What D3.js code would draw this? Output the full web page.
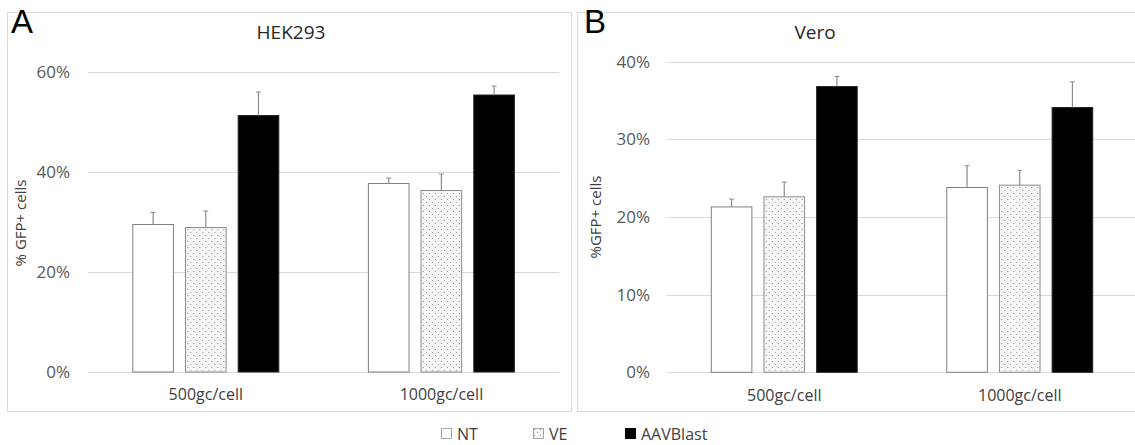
<!DOCTYPE html>
<html>
<head>
<meta charset="utf-8">
<script src="https://cdn.jsdelivr.net/npm/d3@7"></script>
<style>
  body { margin: 0; background: #fff; }
  text { font-family: "Open Sans", sans-serif; }
</style>
</head>
<body>
<div id="chart"></div>
<script>
// data (% GFP+ cells, mean and upper error)
const categories = ['500gc/cell', '1000gc/cell'];
const seriesNames = ['NT', 'VE', 'AAVBlast'];

const hekNT = [29.5, 37.7];
const hekVE = [28.9, 36.3];
const hekAAV = [51.3, 55.4];
const hekNTErr = [2.4, 1.1];
const hekVEErr = [3.3, 3.3];
const hekAAVErr = [4.7, 1.8];
const hekTicks = [0, 20, 40, 60];

const veroNT = [21.3, 23.8];
const veroVE = [22.6, 24.1];
const veroAAV = [36.8, 34.1];
const veroNTErr = [1.0, 2.8];
const veroVEErr = [1.9, 1.9];
const veroAAVErr = [1.3, 3.3];
const veroTicks = [0, 10, 20, 30, 40];

const W = 1135, H = 445;
const svg = d3.select('#chart').append('svg').attr('width', W).attr('height', H);

// dotted fill for VE
const defs = svg.append('defs');
const pat = defs.append('pattern').attr('id', 'dots')
  .attr('patternUnits', 'userSpaceOnUse').attr('width', 6).attr('height', 6);
pat.append('rect').attr('width', 6).attr('height', 6).attr('fill', '#f5f5f5');
pat.append('rect').attr('x', 1).attr('y', 1).attr('width', 1).attr('height', 1).attr('fill', '#8a8a8a');
pat.append('rect').attr('x', 4).attr('y', 4).attr('width', 1).attr('height', 1).attr('fill', '#9a9a9a');

const fills = { NT: '#ffffff', VE: 'url(#dots)', AAVBlast: '#000000' };
const strokes = { NT: '#7f7f7f', VE: '#8c8c8c', AAVBlast: '#262626' };

function panel(opt) {
  const g = svg.append('g');
  // frame
  g.append('rect').attr('x', opt.frame[0]).attr('y', opt.frame[1])
    .attr('width', opt.frame[2]).attr('height', opt.frame[3])
    .attr('fill', 'none').attr('stroke', '#d9d9d9');

  const y = d3.scaleLinear().domain([0, opt.ticks[opt.ticks.length - 1]]).range(opt.yRange);
  const x0 = d3.scaleBand().domain(categories).range(opt.xRange)
    .paddingInner(0.376).paddingOuter(0.188);
  const x1 = d3.scaleBand().domain(seriesNames).range([0, x0.bandwidth()])
    .paddingInner(0.21).paddingOuter(0);

  // gridlines
  g.selectAll('.grid').data(opt.ticks).join('line')
    .attr('x1', opt.xRange[0]).attr('x2', opt.xRange[1])
    .attr('y1', d => Math.round(y(d)) + 0.5).attr('y2', d => Math.round(y(d)) + 0.5)
    .attr('stroke', '#d9d9d9');

  // y axis labels
  const yAxis = d3.axisLeft(y).tickValues(opt.ticks).tickSize(0).tickPadding(0)
    .tickFormat(d => d + '%');
  const ya = g.append('g').attr('transform', `translate(${opt.labelX},0)`).call(yAxis);
  ya.select('.domain').remove();
  ya.selectAll('text').attr('font-size', 17).attr('fill', '#595959')
    .style('font-family', '"Open Sans", sans-serif');

  // category labels
  const xAxis = d3.axisBottom(x0).tickSize(0).tickPadding(0);
  const xa = g.append('g').attr('transform', `translate(0,${opt.yRange[0] + 17})`).call(xAxis);
  xa.select('.domain').remove();
  xa.selectAll('text').attr('font-size', 16).attr('fill', '#404040')
    .style('font-family', '"Open Sans", sans-serif');

  // bars
  const rows = [];
  categories.forEach((c, i) => {
    seriesNames.forEach((s, j) => {
      rows.push({ c, s, v: opt.values[j][i], e: opt.errors[j][i] });
    });
  });
  const groups = g.selectAll('.grp').data(categories).join('g')
    .attr('transform', d => `translate(${x0(d)},0)`);
  groups.selectAll('rect').data(c => rows.filter(r => r.c === c)).join('rect')
    .attr('x', d => x1(d.s) + 0.5).attr('y', d => y(d.v))
    .attr('width', x1.bandwidth() - 1).attr('height', d => y(0) - y(d.v))
    .attr('fill', d => fills[d.s]).attr('stroke', d => strokes[d.s]).attr('stroke-width', 1);

  // upper error bars
  const eb = groups.selectAll('.err').data(c => rows.filter(r => r.c === c)).join('g');
  eb.append('line')
    .attr('x1', d => x1(d.s) + x1.bandwidth() / 2).attr('x2', d => x1(d.s) + x1.bandwidth() / 2)
    .attr('y1', d => y(d.v)).attr('y2', d => y(d.v + d.e))
    .attr('stroke', '#8c8c8c').attr('stroke-width', 1.2);
  eb.append('line')
    .attr('x1', d => x1(d.s) + x1.bandwidth() / 2 - 2.5).attr('x2', d => x1(d.s) + x1.bandwidth() / 2 + 2.5)
    .attr('y1', d => y(d.v + d.e)).attr('y2', d => y(d.v + d.e))
    .attr('stroke', '#8c8c8c').attr('stroke-width', 1);

  // title
  g.append('text').attr('x', opt.titleX).attr('y', 39).attr('text-anchor', 'middle')
    .attr('font-size', 19).attr('fill', '#262626').text(opt.title);
  // panel letter
  g.append('text').attr('x', opt.letterX).attr('y', 33)
    .attr('font-size', 33).attr('fill', '#000')
    .style('font-family', '"Liberation Sans", sans-serif').text(opt.letter);
  // y title
  g.append('text').attr('transform', `translate(${opt.yTitle[0]},${opt.yTitle[1]}) rotate(-90)`)
    .attr('text-anchor', 'middle').attr('font-size', 15).attr('fill', '#404040')
    .text(opt.yLabel);
}

panel({
  frame: [7.5, 12.5, 564, 399],
  xRange: [88, 559.2], yRange: [372, 72], ticks: hekTicks, labelX: 70,
  values: [hekNT, hekVE, hekAAV], errors: [hekNTErr, hekVEErr, hekAAVErr],
  title: 'HEK293', titleX: 291, letter: 'A', letterX: 11,
  yLabel: '% GFP+ cells', yTitle: [26, 223]
});

panel({
  frame: [577.5, 12.5, 600, 399],
  xRange: [666.5, 1137.5], yRange: [372.3, 61.7], ticks: veroTicks, labelX: 650,
  values: [veroNT, veroVE, veroAAV], errors: [veroNTErr, veroVEErr, veroAAVErr],
  title: 'Vero', titleX: 815, letter: 'B', letterX: 584,
  yLabel: '%GFP+ cells', yTitle: [601, 217]
});

// legend
const legX = [441, 533, 625];
const leg = svg.append('g').selectAll('g').data(seriesNames).join('g')
  .attr('transform', (d, i) => `translate(${legX[i]},428)`);
leg.append('rect').attr('x', 0.5).attr('y', 0.5).attr('width', 10).attr('height', 10)
  .attr('fill', d => fills[d]).attr('stroke', d => d === 'AAVBlast' ? '#000' : '#a6a6a6');
leg.append('text').attr('x', 16).attr('y', 11.5).attr('font-size', 16).attr('fill', '#404040')
  .text(d => d);
</script>
</body>
</html>
